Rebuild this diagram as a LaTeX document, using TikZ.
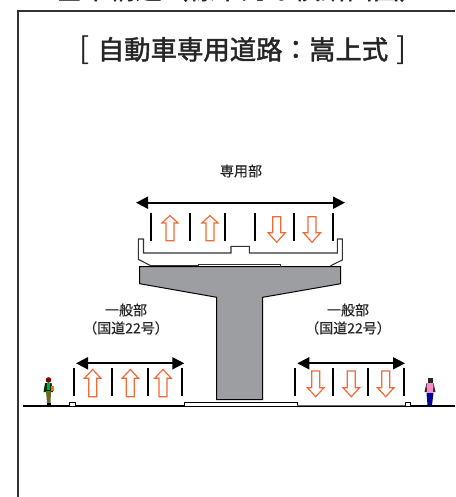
\documentclass[tikz,border=0pt]{standalone}
\usepackage{fontspec}
\setmainfont{Noto Sans CJK JP}
\newfontfamily\titlefont[FakeBold=1.8]{Noto Sans CJK JP}
\newfontfamily\labelfont[FakeBold=0.4]{Noto Sans CJK JP}
\usetikzlibrary{arrows.meta}
\definecolor{pierfill}{HTML}{9D9EA2}
\definecolor{lanearrow}{HTML}{F26A36}
\tikzset{
  titletext/.style={font=\titlefont\fontsize{26.4}{30}\selectfont, text=black!85, inner sep=0pt},
  labeltext/.style={font=\labelfont\fontsize{14}{16}\selectfont, text=black!85, inner sep=0pt},
  spanarrow/.style={{Triangle[length=12pt,width=12pt]}-{Triangle[length=12pt,width=12pt]}, line width=1.8pt, black},
  lanemark/.style={line width=1.7pt, black},
  lanearrowline/.style={line width=1.2pt, lanearrow, fill=white, line join=miter},
  thinline/.style={line width=1.1pt, black!80}
}
\begin{document}
\begin{tikzpicture}[x=1pt,y=-1pt]
  \useasboundingbox (0,0) rectangle (455,497);
  % frame and heading
  \node[titletext] (pagetitle) at (241,-11) {基本構造（標準的な横断面図）};
  \draw[line width=1.3pt, black!80] (18,497) -- (18,11) -- (455,11);
  \node[titletext] (headline) at (243,50) {{\normalfont\fontsize{30}{30}\selectfont[}\hspace{8pt}自動車専用道路：嵩上式\hspace{8pt}{\normalfont\fontsize{30}{30}\selectfont]}};
  % labels
  \node[labeltext] (upperlabel) at (241,171) {専用部};
  \node[labeltext] (leftlabel) at (126,310) {一般部};
  \node[labeltext] (leftroad) at (126,328) {（国道22号）};
  \node[labeltext] (rightlabel) at (348,310) {一般部};
  \node[labeltext] (rightroad) at (348,328) {（国道22号）};
  % pier
  \draw[line width=1pt, fill=pierfill] (139.7,266.7) -- (340.7,266.7) -- (340.7,283.7) -- (262.7,297.3) -- (262.7,399.5) -- (216.7,399.5) -- (216.7,297.3) -- (139.7,283.7) -- cycle;
  % deck and barriers
  \draw[thinline] (150.7,265.7) -- (138.3,259.3) -- (138.3,239) -- (143.5,239) -- (143.5,253) -- (231,253) -- (231,246.3) -- (249.3,246.3) -- (249.3,253) -- (337.3,253) -- (337.3,239) -- (342.3,239) -- (342.3,260) -- (330.7,265.7);
  \draw[thinline] (150.7,265.7) -- (198.7,265.7) -- (198.7,264.7) -- (280.7,264.7) -- (280.7,266.7);
  % ground
  \draw[line width=1.5pt] (23,406) -- (455,406);
  \draw[line width=0.7pt, fill=white] (184,406) -- (184,402.3) -- (297.3,402.3) -- (297.3,406);
  \draw[line width=0.7pt, black!60] (297.3,405) -- (405.7,405);
  \draw[line width=0.7pt, fill=white] (69.3,406) -- (69.3,402.7) -- (75.3,402.7) -- (75.3,406);
  \draw[line width=0.7pt, fill=white] (405.7,406) -- (405.7,402.7) -- (410.3,402.7) -- (410.3,406);
  % width arrows
  \draw[spanarrow] (136,202.7) -- (345,202.7);
  \draw[spanarrow] (76,363.3) -- (184.3,363.3);
  \draw[spanarrow] (297.3,363.3) -- (405,363.3);
  % lane marks
  \draw[lanemark] (150.7,212.7) -- (150.7,240.7);
  \draw[lanemark] (190,212.7) -- (190,240.7);
  \draw[lanemark] (225,212.7) -- (225,240.7);
  \draw[lanemark] (255,212.7) -- (255,240.7);
  \draw[lanemark] (294,212.7) -- (294,240.7);
  \draw[lanemark] (332.7,212.7) -- (332.7,240.7);
  \draw[lanemark] (74,368.3) -- (74,395.7);
  \draw[lanemark] (112,368.3) -- (112,395.7);
  \draw[lanemark] (148,368.3) -- (148,395.7);
  \draw[lanemark] (182,368.3) -- (182,395.7);
  \draw[lanemark] (294.7,368.3) -- (294.7,395.7);
  \draw[lanemark] (332.7,368.3) -- (332.7,395.7);
  \draw[lanemark] (368,368.3) -- (368,395.7);
  \draw[lanemark] (404,368.3) -- (404,395.7);
  % upper lanes
  \draw[lanearrowline] (170,215.5) -- ++(8,7.5) -- ++(-4,0) -- (174,240.7) -- (166,240.7) -- (166,223) -- ++(-4,0) -- cycle;
  \draw[lanearrowline] (210,215.5) -- ++(8,7.5) -- ++(-4,0) -- (214,240.7) -- (206,240.7) -- (206,223) -- ++(-4,0) -- cycle;
  \draw[lanearrowline] (276.7,242.3) -- ++(8.5,-9.5) -- ++(-4.5,0) -- (280.7,216.7) -- (272.7,216.7) -- (272.7,232.8) -- ++(-4.5,0) -- cycle;
  \draw[lanearrowline] (312,242.3) -- ++(8.5,-9.5) -- ++(-4.5,0) -- (316,216.7) -- (308,216.7) -- (308,232.8) -- ++(-4.5,0) -- cycle;
  % lower left lanes
  \draw[lanearrowline] (92.7,369.5) -- ++(8.3,8.8) -- ++(-4.3,0) -- (96.7,396.7) -- (88.7,396.7) -- (88.7,378.3) -- ++(-4.3,0) -- cycle;
  \draw[lanearrowline] (130.3,369.5) -- ++(8.3,8.8) -- ++(-4.3,0) -- (134.3,396.7) -- (126.3,396.7) -- (126.3,378.3) -- ++(-4.3,0) -- cycle;
  \draw[lanearrowline] (163,369.5) -- ++(8.3,8.8) -- ++(-4.3,0) -- (167,396.7) -- (159,396.7) -- (159,378.3) -- ++(-4.3,0) -- cycle;
  % lower right lanes
  \draw[lanearrowline] (315.7,396.7) -- ++(8.3,-9) -- ++(-4.3,0) -- (319.7,371) -- (311.7,371) -- (311.7,387.7) -- ++(-4.3,0) -- cycle;
  \draw[lanearrowline] (351.3,396.7) -- ++(8.3,-9) -- ++(-4.3,0) -- (355.3,371) -- (347.3,371) -- (347.3,387.7) -- ++(-4.3,0) -- cycle;
  \draw[lanearrowline] (385.7,396.7) -- ++(8.3,-9) -- ++(-4.3,0) -- (389.7,371) -- (381.7,371) -- (381.7,387.7) -- ++(-4.3,0) -- cycle;
  % walkers
  \fill[black!80!green] (43.5,392) -- (45,383) -- (51.5,383) -- (53,392) -- cycle;
  \fill[teal!70!green] (46.5,383) rectangle (50,390);
  \fill[orange!90!red] (51,385.5) rectangle (54,391);
  \fill[olive!70!black] (46,391) -- (51,391) -- (50.5,403) -- (47,403) -- cycle;
  \fill[black] (46.5,403) rectangle (50.5,405.5);
  \fill[red!45!black] (48.5,380) circle (2.8);
  \fill[black!85] (427.5,377.5) rectangle (432.5,383);
  \fill[black!85] (424.5,392) -- (426.5,383) -- (433.5,383) -- (435.5,392) -- cycle;
  \fill[magenta!45!white] (426.5,383) -- (433.5,383) -- (433,393) -- (427,393) -- cycle;
  \fill[blue!60!black] (426.5,393) -- (433.5,393) -- (432,405) -- (429.5,405) -- (429.3,398) -- (429,405) -- (427.5,405) -- cycle;
\end{tikzpicture}
\end{document}
